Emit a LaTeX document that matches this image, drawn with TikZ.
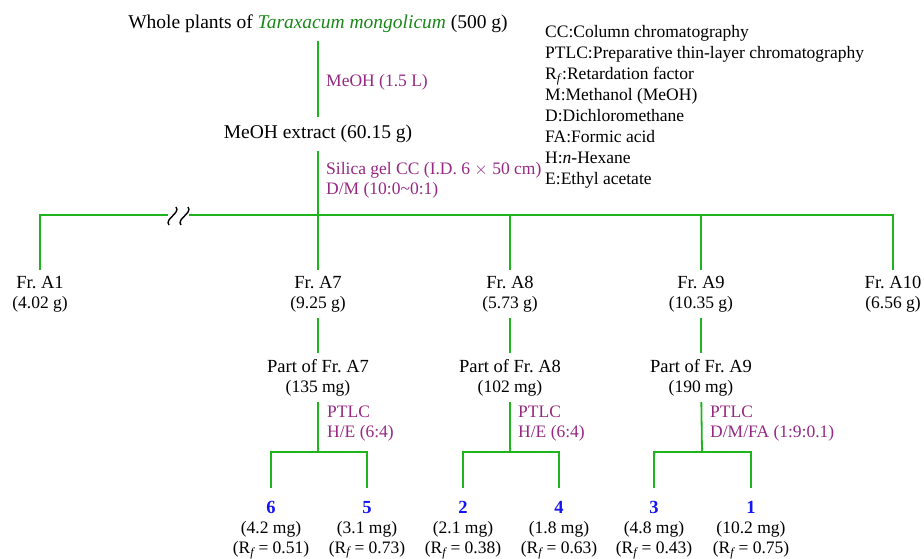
\documentclass[tikz,border=0pt]{standalone}
\usepackage{fontspec}
\setmainfont{Liberation Serif}
\frenchspacing
\definecolor{lngreen}{RGB}{30,180,30}
\definecolor{spgreen}{RGB}{25,135,25}
\definecolor{cond}{RGB}{150,40,130}
\definecolor{cmpblue}{RGB}{20,20,245}
\newcommand{\Rf}{R\textsubscript{\textit{f}}}
\newcommand{\smallfs}{\fontsize{17.5}{20}\selectfont}
\begin{document}
\begin{tikzpicture}[x=1pt,y=-1pt,
 ln/.style={lngreen,line width=1.8pt},
 brk/.style={black,line width=1.4pt},
 big/.style={font=\fontsize{19.5}{22}\selectfont,inner xsep=0pt,inner ysep=8pt},
 frac/.style={align=center,font=\fontsize{18.5}{20}\selectfont,inner xsep=0pt,inner ysep=6pt,anchor=north},
 cmpd/.style={align=center,font=\fontsize{18.5}{20}\selectfont,inner xsep=0pt,inner ysep=13pt,anchor=north},
 cnd/.style={cond,align=left,font=\smallfs,inner sep=0pt},
 legend/.style={align=left,font=\fontsize{17.5}{21}\selectfont,inner sep=0pt,anchor=north west}]
\useasboundingbox (0,0) rectangle (924,558);

\node[big] (plant) at (318,24) {Whole plants of \textcolor{spgreen}{\textit{Taraxacum mongolicum}} (500 g)};
\node[big] (ext) at (318,134) {MeOH extract (60.15 g)};
\draw[ln] (plant) -- (ext);
\node[cnd,anchor=west] (c1) at (326,82) {MeOH (1.5 L)};
\node[cnd,anchor=north west] (c2) at (326,162) {Silica gel CC (I.D. 6 $\times$ 50 cm)\\D/M (10:0\textasciitilde0:1)};

\node[legend] (key) at (545,25) {CC:Column chromatography\\PTLC:Preparative thin-layer chromatography\\\Rf:Retardation factor\\M:Methanol (MeOH)\\D:Dichloromethane\\FA:Formic acid\\H:\textit{n}-Hexane\\E:Ethyl acetate};

\node[frac] (fA1) at (40,270) {Fr. A1\\{\smallfs(4.02 g)}};
\node[frac] (fA7) at (318,270) {Fr. A7\\{\smallfs(9.25 g)}};
\node[frac] (fA8) at (510,270) {Fr. A8\\{\smallfs(5.73 g)}};
\node[frac] (fA9) at (701,270) {Fr. A9\\{\smallfs(10.35 g)}};
\node[frac] (fA10) at (893,270) {Fr. A10\\{\smallfs(6.56 g)}};

\coordinate (top) at (318,215);
\coordinate (brkL) at (168,215);
\coordinate (brkR) at (189,215);
\draw[ln] (fA1) |- (brkL);
\draw[ln] (brkR) -| (fA10);
\draw[ln] (ext) -- (fA7);
\draw[ln] (fA8) -- (fA8 |- top);
\draw[ln] (fA9) -- (fA9 |- top);
\draw[brk] (169,225) .. controls (164,219) and (181,213) .. (176,207);
\draw[brk] (181,225) .. controls (176,219) and (193,213) .. (188,207);

\node[frac] (pA7) at (318,353) {Part of Fr. A7\\{\smallfs(135 mg)}};
\node[frac] (pA8) at (510,353) {Part of Fr. A8\\{\smallfs(102 mg)}};
\node[frac] (pA9) at (701,353) {Part of Fr. A9\\{\smallfs(190 mg)}};
\draw[ln] (fA7) -- (pA7);
\draw[ln] (fA8) -- (pA8);
\draw[ln] (fA9) -- (pA9);

\node[cnd,anchor=north west] (t7) at (327,406) {PTLC\\H/E (6:4)};
\node[cnd,anchor=north west] (t8) at (518,406) {PTLC\\H/E (6:4)};
\node[cnd,anchor=north west] (t9) at (710,406) {PTLC\\D/M/FA (1:9:0.1)};

\node[cmpd] (c6) at (271,488) {\textcolor{cmpblue}{\textbf{6}}\\{\smallfs(4.2 mg)}\\{\smallfs(\Rf\,= 0.51)}};
\node[cmpd] (c5) at (367,488) {\textcolor{cmpblue}{\textbf{5}}\\{\smallfs(3.1 mg)}\\{\smallfs(\Rf\,= 0.73)}};
\node[cmpd] (c2) at (463,488) {\textcolor{cmpblue}{\textbf{2}}\\{\smallfs(2.1 mg)}\\{\smallfs(\Rf\,= 0.38)}};
\node[cmpd] (c4) at (559,488) {\textcolor{cmpblue}{\textbf{4}}\\{\smallfs(1.8 mg)}\\{\smallfs(\Rf\,= 0.63)}};
\node[cmpd] (c3) at (654,488) {\textcolor{cmpblue}{\textbf{3}}\\{\smallfs(4.8 mg)}\\{\smallfs(\Rf\,= 0.43)}};
\node[cmpd] (c1b) at (751,488) {\textcolor{cmpblue}{\textbf{1}}\\{\smallfs(10.2 mg)}\\{\smallfs(\Rf\,= 0.75)}};

\coordinate (s7) at (318,452);
\coordinate (s8) at (510,452);
\coordinate (s9) at (702,452);
\draw[ln] (pA7) -- (s7);
\draw[ln] (pA8) -- (s8);
\draw[ln] (pA9) -- (s9);
\draw[ln] (c6) |- (s7) -| (c5);
\draw[ln] (c2) |- (s8) -| (c4);
\draw[ln] (c3) |- (s9) -| (c1b);
\end{tikzpicture}
\end{document}
